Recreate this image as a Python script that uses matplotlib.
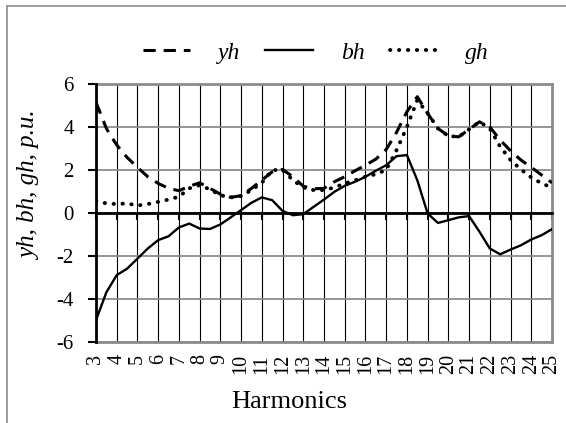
import matplotlib
matplotlib.use('Agg')
import matplotlib.pyplot as plt
from matplotlib.lines import Line2D

plt.rcParams['font.family'] = ['Liberation Serif', 'DejaVu Serif']
plt.rcParams['axes.unicode_minus'] = False

# harmonic order (read every half step off the picture)
harmonics = [3, 3.5, 4, 4.5, 5, 5.5, 6, 6.5, 7, 7.5, 8, 8.5, 9, 9.5, 10, 10.5,
             11, 11.5, 12, 12.5, 13, 13.5, 14, 14.5, 15, 15.5, 16, 16.5, 17, 17.5,
             18, 18.5, 19, 19.5, 20, 20.5, 21, 21.5, 22, 22.5, 23, 23.5, 24, 24.5, 25]

yh = [5.15, 3.93, 3.16, 2.58, 2.12, 1.68, 1.37, 1.14, 1.03, 1.24, 1.40, 1.14, 0.87, 0.72, 0.80,
      1.14, 1.52, 1.91, 2.02, 1.68, 1.24, 1.12, 1.14, 1.45, 1.68, 1.96, 2.22, 2.5, 2.95, 3.75,
      4.71, 5.41, 4.63, 3.93, 3.58, 3.54, 3.89, 4.24, 4.0, 3.39, 2.89, 2.46, 2.12, 1.76, 1.40]

bh = [-5.0, -3.7, -2.9, -2.6, -2.13, -1.66, -1.27, -1.09, -0.68, -0.5, -0.73, -0.75, -0.54, -0.21, 0.13,
      0.47, 0.72, 0.59, 0.09, -0.11, -0.06, 0.28, 0.62, 0.98, 1.26, 1.45, 1.68, 1.96, 2.22, 2.64,
      2.69, 1.52, -0.03, -0.47, -0.34, -0.21, -0.15, -0.88, -1.66, -1.93, -1.71, -1.51, -1.24, -1.04, -0.76]

gh = [0.56, 0.44, 0.41, 0.44, 0.34, 0.41, 0.51, 0.62, 0.75, 1.14, 1.29, 1.09, 0.82, 0.72, 0.78,
      1.06, 1.40, 1.99, 2.0, 1.52, 1.18, 1.06, 1.06, 1.18, 1.37, 1.52, 1.68, 1.80, 2.0, 2.92,
      4.0, 5.25, 4.63, 3.93, 3.58, 3.54, 3.89, 4.24, 3.93, 3.08, 2.46, 2.02, 1.65, 1.37, 1.18]

tick_harmonics = list(range(3, 26))
y_ticks = [-6, -4, -2, 0, 2, 4, 6]

fig = plt.figure(figsize=(5.66, 4.23), dpi=100)
ax = fig.add_axes([0.1696, 0.1922, 0.9753 - 0.1696, 0.8014 - 0.1922])

# grid
for h in tick_harmonics:
    ax.axvline(h, color='black', lw=0.8, zorder=1)
for v in y_ticks:
    ax.axhline(v, color='#8c8c8c', lw=1.3, zorder=1)

l1, = ax.plot(harmonics, yh, color='black', lw=2.2, linestyle=(0, (4, 2.6)), zorder=3)
l2, = ax.plot(harmonics, bh, color='black', lw=1.7, zorder=3)
l3, = ax.plot(harmonics, gh, color='black', lw=2.8, linestyle=(0, (0.1, 2.2)),
              dash_capstyle='round', zorder=3)

ax.set_xlim(3, 25)
ax.set_ylim(-6, 6)
ax.set_yticks(y_ticks)
ax.set_yticklabels([str(v) for v in y_ticks])
ax.set_xticks(tick_harmonics)

# x axis line crosses at zero, labels at the bottom
ax.spines['bottom'].set_position(('data', 0))
ax.spines['bottom'].set_linewidth(2)
ax.spines['bottom'].set_zorder(4)
ax.spines['left'].set_linewidth(2)
ax.spines['left'].set_zorder(4)
for s in ['top', 'right']:
    ax.spines[s].set_color('#8c8c8c')
    ax.spines[s].set_linewidth(2)
ax.tick_params(axis='x', direction='out', length=5, width=1.5, labelbottom=False)
ax.tick_params(axis='y', direction='out', length=6, width=1.5, labelsize=15, pad=10)

sec = ax.secondary_xaxis('bottom')
sec.set_xticks(tick_harmonics, [str(h) for h in tick_harmonics], rotation=90)
sec.tick_params(length=0, labelsize=14.5, pad=9)
sec.spines['bottom'].set_color('#8c8c8c')
sec.spines['bottom'].set_linewidth(2)

ax.set_ylabel('yh, bh, gh, p.u.', fontsize=18, style='italic')
ax.yaxis.set_label_coords(-0.12, 0.605)
ax.set_xlabel('Harmonics', fontsize=19, va='baseline')
ax.xaxis.set_label_coords(0.423, -0.257)

fig.legend([l1, l2, l3], ['yh', 'bh', 'gh'], loc='center', bbox_to_anchor=(0.558, 0.875),
           ncol=3, frameon=False, prop={'size': 17, 'style': 'italic'},
           handlelength=2.0, handletextpad=1.2, columnspacing=1.05)

# chart frame (left and top edges visible)
fig.add_artist(Line2D([6.5 / 566, 6.5 / 566], [0, 1 - 6.5 / 423], color='#8c8c8c', lw=1.2))
fig.add_artist(Line2D([6.5 / 566, 1], [1 - 6.5 / 423, 1 - 6.5 / 423], color='#8c8c8c', lw=1.2))

fig.savefig('out.png', dpi=100)
